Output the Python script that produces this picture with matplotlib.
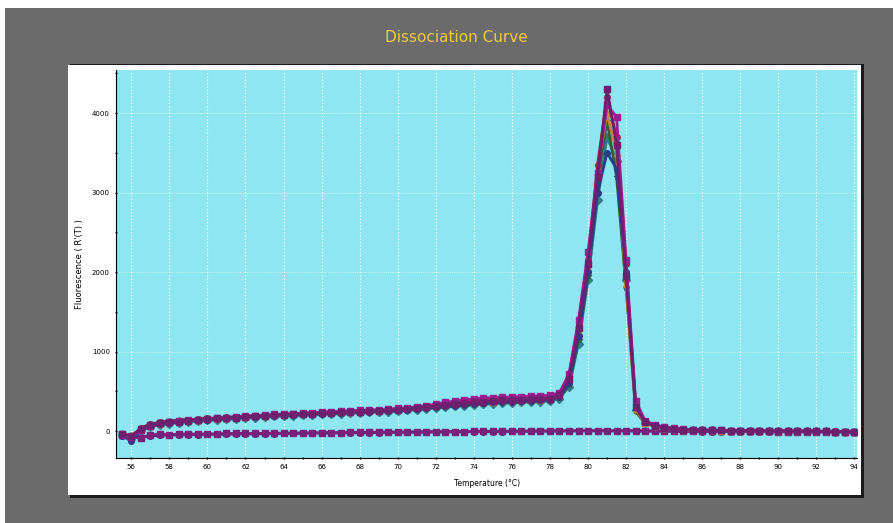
import numpy as np
import matplotlib.pyplot as plt
from matplotlib.patches import Rectangle

# temperatura (°C), passo 0.5
temps = [55.5, 56, 56.5, 57, 57.5, 58, 58.5, 59, 59.5,
         60, 60.5, 61, 61.5, 62, 62.5, 63, 63.5, 64, 64.5,
         65, 65.5, 66, 66.5, 67, 67.5, 68, 68.5, 69, 69.5,
         70, 70.5, 71, 71.5, 72, 72.5, 73, 73.5, 74, 74.5,
         75, 75.5, 76, 76.5, 77, 77.5, 78, 78.5, 79, 79.5,
         80, 80.5, 81, 81.5, 82, 82.5, 83, 83.5, 84, 84.5,
         85, 85.5, 86, 86.5, 87, 87.5, 88, 88.5, 89, 89.5,
         90, 90.5, 91, 91.5, 92, 92.5, 93, 93.5, 94]

# amostras com produto
amostra1 = [-40, -60, 30, 80, 100, 110, 120, 130, 140,
            150, 160, 165, 170, 180, 185, 190, 200, 205, 210,
            215, 220, 225, 230, 235, 240, 245, 250, 255, 260,
            270, 280, 290, 300, 310, 330, 345, 355, 360, 370,
            375, 385, 390, 395, 400, 405, 410, 450, 650, 1300,
            2100, 3200, 4300, 3600, 1950, 300, 110, 70, 45, 30,
            20, 15, 12, 10, 8, 6, 5, 4, 3, 2,
            2, 1, 0, 0, -2, -3, -5, -6, -8]
amostra2 = [-60, -120, 10, 60, 90, 100, 115, 125, 135,
            145, 150, 160, 170, 175, 180, 190, 195, 200, 205,
            210, 215, 220, 225, 230, 235, 240, 245, 250, 255,
            260, 270, 280, 290, 300, 310, 320, 330, 340, 350,
            360, 365, 370, 375, 380, 385, 395, 430, 600, 1200,
            2000, 3000, 3500, 3300, 2000, 350, 120, 75, 50, 35,
            25, 18, 14, 11, 9, 7, 6, 5, 4, 3,
            2, 1, 0, -1, -3, -4, -5, -7, -9]
amostra3 = [-30, -50, 20, 70, 95, 115, 125, 135, 145,
            150, 155, 165, 175, 180, 190, 195, 200, 210, 215,
            220, 225, 230, 235, 240, 245, 250, 255, 260, 265,
            275, 285, 295, 305, 315, 325, 335, 345, 355, 360,
            370, 375, 380, 385, 390, 395, 400, 440, 620, 1250,
            2050, 3300, 4000, 3500, 1850, 280, 100, 65, 40, 28,
            18, 14, 11, 9, 7, 6, 5, 4, 3, 2,
            1, 0, 0, -1, -2, -3, -4, -5, -7]
amostra4 = [-50, -90, 0, 60, 110, 130, 140, 145, 150,
            155, 160, 165, 170, 175, 180, 185, 190, 195, 200,
            205, 210, 215, 220, 225, 230, 235, 240, 245, 250,
            255, 265, 275, 285, 295, 305, 315, 325, 335, 345,
            355, 360, 365, 370, 375, 380, 390, 420, 580, 1150,
            1950, 3150, 3900, 3200, 1800, 250, 95, 60, 40, 25,
            17, 13, 10, 8, 6, 5, 4, 3, 2, 1,
            1, 0, -1, -2, -3, -4, -5, -6, -8]
amostra5 = [-35, -70, 40, 90, 110, 120, 130, 140, 150,
            160, 165, 175, 180, 190, 195, 200, 205, 210, 220,
            225, 230, 235, 240, 245, 250, 255, 260, 265, 270,
            280, 290, 300, 310, 325, 345, 360, 370, 375, 385,
            390, 395, 400, 405, 410, 415, 420, 470, 700, 1350,
            2150, 3350, 4200, 3700, 2100, 320, 115, 70, 45, 30,
            20, 15, 12, 10, 8, 6, 5, 4, 3, 2,
            2, 1, 0, -1, -2, -3, -4, -6, -7]
amostra6 = [-45, -80, 20, 70, 100, 115, 125, 135, 145,
            155, 165, 170, 180, 185, 195, 200, 210, 215, 220,
            225, 230, 240, 245, 250, 255, 260, 265, 270, 275,
            285, 295, 305, 320, 340, 360, 380, 395, 405, 415,
            420, 425, 430, 435, 440, 445, 450, 480, 720, 1400,
            2250, 3250, 4100, 3950, 2150, 380, 130, 80, 50, 35,
            24, 17, 13, 10, 8, 7, 6, 5, 4, 3,
            2, 1, 0, -1, -2, -3, -5, -6, -8]
amostra7 = [-55, -100, 10, 50, 80, 95, 105, 115, 125,
            135, 140, 150, 155, 165, 170, 175, 185, 190, 195,
            200, 205, 210, 215, 220, 225, 230, 235, 240, 245,
            250, 260, 270, 280, 290, 300, 310, 320, 330, 340,
            345, 350, 355, 360, 365, 370, 380, 410, 560, 1100,
            1900, 2900, 3700, 3400, 1900, 270, 100, 65, 40, 28,
            19, 14, 11, 9, 7, 5, 4, 3, 2, 1,
            0, 0, -1, -2, -3, -4, -5, -6, -7]

# controles negativos (sem produto)
ntc1 = [-40, -70, -90, -50, -40, -45, -40, -35, -40,
        -35, -35, -30, -30, -30, -28, -28, -25, -25, -22,
        -22, -20, -20, -18, -18, -15, -15, -15, -12, -12,
        -10, -10, -8, -8, -6, -6, -5, -5, -3, -3,
        -2, -2, 0, 0, 2, 2, 3, 3, 5, 5,
        5, 5, 5, 5, 5, 4, 3, 2, 2, 1,
        0, 0, -1, -1, -2, -2, -3, -3, -4, -4,
        -5, -5, -6, -6, -7, -7, -8, -8, -9]
ntc2 = [-60, -80, -70, -60, -55, -50, -50, -45, -45,
        -42, -40, -40, -38, -36, -35, -34, -32, -30, -30,
        -28, -27, -26, -25, -24, -22, -20, -20, -18, -17,
        -16, -15, -14, -13, -12, -11, -10, -9, -8, -7,
        -6, -5, -4, -3, -2, -1, 0, 1, 2, 2,
        3, 3, 3, 2, 2, 1, 0, -1, -2, -3,
        -4, -4, -5, -5, -6, -6, -7, -7, -8, -8,
        -9, -9, -10, -10, -11, -11, -12, -12, -13]

amostras = [amostra7, amostra4, amostra3, amostra2, amostra5, amostra6, amostra1]
cores = ['#2f7d86', '#2f5f3f', '#c9803a', '#2b3a8a', '#8e2f3a', '#9b1d8f', '#6e1f6e']
marcadores = ['D', '*', '^', 'o', 'o', 's', 's']

fig = plt.figure(figsize=(8.93, 5.23), dpi=100)
fig.patch.set_facecolor('white')

# fundo cinza e painel branco
fig.patches.append(Rectangle((0.006, 0), 0.994, 0.984, transform=fig.transFigure,
                             facecolor='#6b6b6b', edgecolor='none', zorder=-3))
fig.patches.append(Rectangle((0.078, 0.048), 0.890, 0.830, transform=fig.transFigure,
                             facecolor='#1a1a1a', edgecolor='none', zorder=-2))
fig.patches.append(Rectangle((0.076, 0.054), 0.888, 0.822, transform=fig.transFigure,
                             facecolor='white', edgecolor='none', zorder=-1))

fig.text(0.511, 0.929, 'Dissociation Curve', color='#f2c744', fontsize=11,
         ha='center', va='center')

ax = fig.add_axes([0.130, 0.124, 0.830, 0.742])
ax.set_facecolor('#8ee6f0')

for ntc, c, m in zip([ntc2, ntc1], ['#4a2a8a', '#7a1f7a'], ['o', 's']):
    ax.plot(temps, ntc, color=c, marker=m, markersize=4, linewidth=2)
for y, c, m in zip(amostras, cores, marcadores):
    ax.plot(temps, y, color=c, marker=m, markersize=4, linewidth=2)

ax.set_xlim(55.2, 94.15)
ax.set_ylim(-340, 4540)
ax.set_xticks(np.arange(56, 95, 2))
ax.set_xticks(np.arange(56, 95, 1), minor=True)
ax.set_yticks([0, 1000, 2000, 3000, 4000])
ax.set_yticks(np.arange(0, 4501, 500), minor=True)
ax.tick_params(labelsize=5, length=2, width=1, direction='inout')
ax.tick_params(which='minor', length=2, width=1, direction='inout')

ax.grid(True, which='major', axis='x', color='white', linestyle=':', linewidth=0.9)
ax.grid(True, which='major', axis='y', color='white', linestyle=':', linewidth=0.6, alpha=0.7)
for s in ['top', 'right']:
    ax.spines[s].set_visible(False)

ax.set_xlabel('Temperature (°C)', fontsize=5.5, labelpad=6)
ax.set_ylabel("Fluorescence ( R'(T) )", fontsize=6, labelpad=6)

plt.savefig('out.png', dpi=100)
